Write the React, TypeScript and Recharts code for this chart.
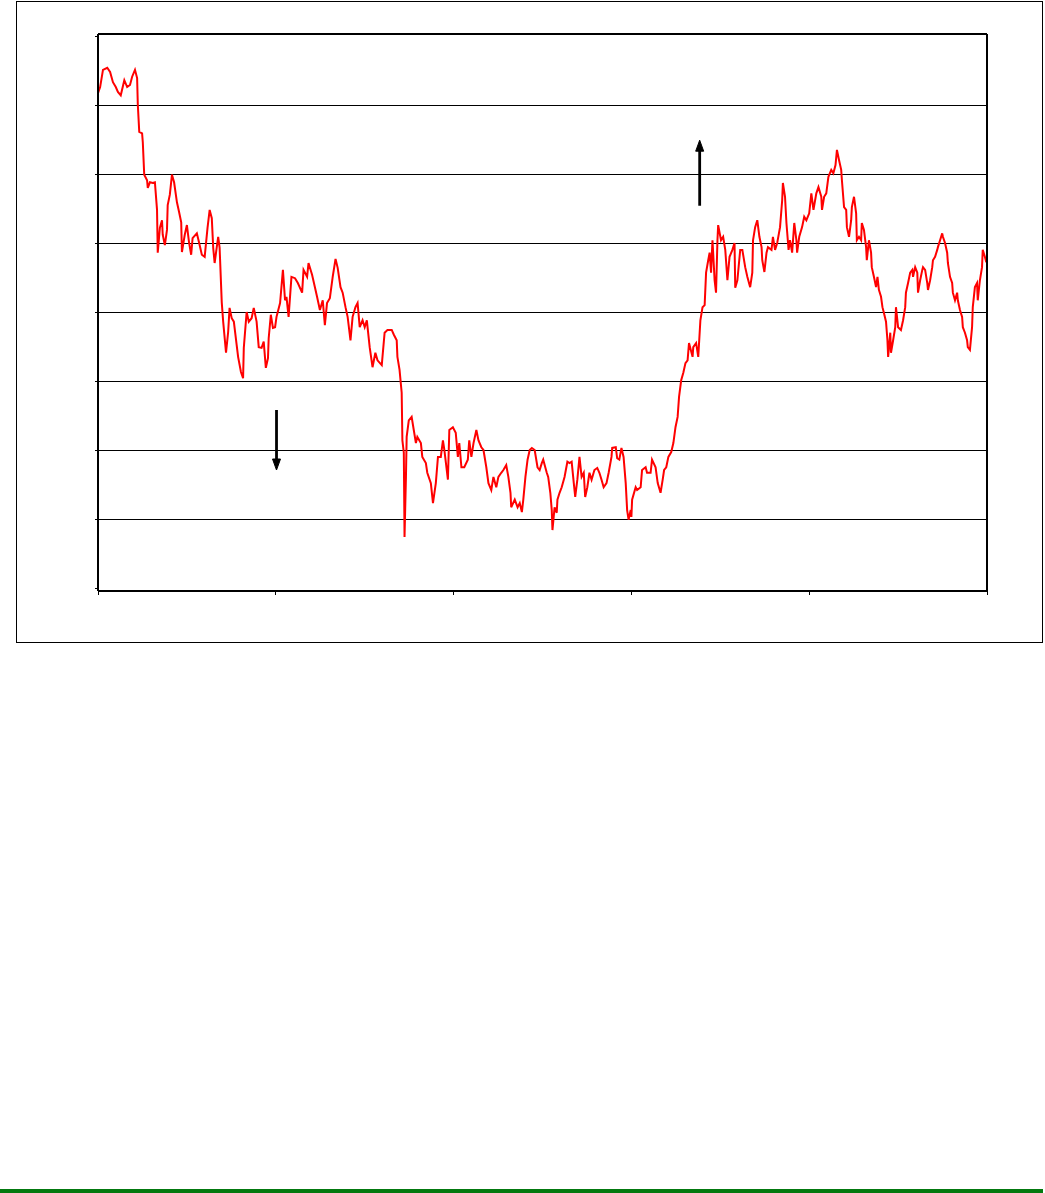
import React from 'react';
import { LineChart, Line, XAxis, YAxis, CartesianGrid, ReferenceLine } from 'recharts';

// Trading session number for every plotted close.
const sessions = [
  0, 3, 7, 13, 17, 21, 25, 28, 32, 37, 41, 45, 48, 52, 55, 56, 58, 62, 63, 65,
  69, 70, 73, 77, 80, 83, 84, 87, 90, 91, 94, 97, 98, 101, 104, 107, 111, 114, 117, 118,
  122, 125, 128, 131, 133, 139, 142, 146, 150, 154, 157, 160, 162, 164, 167, 169, 171, 174, 176, 180,
  183, 185, 188, 191, 195, 197, 201, 204, 205, 209, 212, 216, 219, 223, 226, 230, 233, 236, 239, 240,
  243, 246, 249, 251, 256, 260, 263, 265, 268, 272, 277, 281, 287, 289, 294, 296, 301, 305, 308, 312,
  316, 319, 322, 326, 330, 334, 337, 341, 344, 348, 351, 355, 358, 362, 365, 368, 372, 375, 378, 382,
  386, 390, 393, 399, 403, 407, 413, 416, 420, 421, 424, 427, 428, 430, 431, 433, 434, 437, 441, 444,
  447, 449, 454, 456, 461, 463, 468, 471, 475, 478, 482, 485, 487, 492, 494, 499, 503, 506, 508, 511,
  515, 520, 522, 525, 528, 532, 535, 539, 542, 546, 549, 553, 556, 560, 563, 567, 570, 574, 577, 580,
  581, 586, 590, 593, 596, 598, 601, 604, 607, 610, 614, 618, 621, 624, 626, 631, 633, 636, 638, 639,
  642, 645, 646, 649, 652, 656, 660, 663, 666, 669, 671, 674, 677, 680, 683, 685, 688, 691, 694, 698,
  702, 705, 708, 711, 715, 718, 722, 723, 728, 730, 733, 736, 739, 742, 744, 746, 749, 750, 751, 756,
  758, 763, 765, 770, 772, 777, 779, 784, 787, 791, 794, 796, 799, 802, 806, 809, 812, 815, 817, 820,
  823, 826, 829, 831, 836, 837, 841, 844, 847, 850, 853, 855, 858, 860, 862, 864, 867, 869, 871, 872,
  876, 879, 882, 885, 888, 892, 895, 896, 899, 903, 906, 910, 913, 917, 920, 921, 924, 927, 930, 933,
  934, 937, 940, 942, 947, 949, 952, 955, 959, 962, 963, 966, 968, 971, 973, 976, 979, 982, 983, 986,
  990, 993, 996, 1000, 1003, 1006, 1010, 1013, 1017, 1018, 1021, 1024, 1027, 1031, 1034, 1037, 1039, 1042, 1045, 1046,
  1049, 1052, 1053, 1056, 1059, 1060, 1063, 1066, 1067, 1070, 1073, 1074, 1077, 1080, 1081, 1084, 1087, 1088, 1091, 1094,
  1096, 1098, 1101, 1103, 1105, 1108, 1110, 1111, 1114, 1115, 1118, 1121, 1122, 1125, 1129, 1132, 1135, 1136, 1139, 1142,
  1145, 1146, 1149, 1152, 1153, 1156, 1159, 1160, 1163, 1166, 1167, 1170, 1173, 1174, 1177, 1180, 1181, 1184, 1187, 1188,
  1191, 1194, 1195, 1198, 1201, 1202, 1205, 1208, 1209, 1212, 1215, 1216, 1219, 1222, 1223, 1226, 1229, 1230, 1233, 1236,
  1237, 1240, 1243, 1244, 1247, 1249,
];

// Closing level for each session above.
const closes = [
  71.7, 72.6, 75.1, 75.4, 74.8, 73.3, 72.6, 71.9, 71.4, 73.6, 72.6, 72.9, 74.1, 75.1, 73.9, 70.0, 66.1, 65.9, 64.6, 59.9,
  59.1, 58.0, 58.8, 58.7, 58.8, 54.8, 48.6, 52.2, 53.3, 51.2, 49.7, 51.9, 55.5, 57.0, 59.9, 58.8, 55.9, 54.5, 53.0, 48.7,
  51.2, 52.6, 50.1, 48.3, 50.7, 51.4, 50.1, 48.3, 48.0, 52.2, 54.8, 53.6, 49.3, 47.1, 49.4, 50.9, 49.3, 41.4, 38.6, 34.1,
  37.1, 40.6, 39.1, 38.6, 35.2, 33.5, 31.3, 30.4, 34.8, 40.0, 38.6, 39.1, 40.6, 38.6, 34.9, 34.8, 35.7, 31.9, 33.3, 36.2,
  39.6, 37.7, 37.8, 39.3, 41.3, 46.1, 41.7, 42.2, 39.3, 45.1, 44.9, 44.2, 42.8, 46.1, 45.1, 47.1, 45.4, 43.6, 42.2, 40.3,
  41.7, 38.1, 41.3, 42.0, 45.1, 47.7, 46.4, 43.6, 42.8, 40.7, 39.3, 35.9, 39.3, 40.7, 41.3, 37.8, 38.8, 37.8, 38.8, 34.9,
  32.0, 34.1, 33.0, 32.3, 37.0, 37.4, 37.4, 36.7, 35.9, 33.5, 31.6, 28.3, 21.4, 19.6, 7.4, 16.1, 21.9, 24.3, 24.8, 22.9,
  21.0, 21.9, 21.0, 19.0, 18.1, 16.7, 15.2, 12.3, 15.2, 19.0, 19.0, 21.4, 20.0, 15.7, 22.9, 23.3, 22.5, 19.0, 21.0, 17.5,
  17.5, 18.6, 21.4, 19.0, 21.0, 22.9, 21.4, 20.4, 20.0, 17.5, 15.2, 14.2, 16.1, 14.6, 16.1, 16.7, 17.1, 17.8, 16.1, 13.8,
  11.7, 12.8, 11.7, 12.3, 11.0, 12.8, 16.1, 18.6, 20.0, 20.3, 20.0, 17.5, 17.1, 18.1, 18.6, 16.7, 16.1, 13.8, 11.3, 8.4,
  11.7, 10.9, 12.8, 13.8, 14.6, 16.1, 18.3, 18.1, 18.3, 15.2, 13.2, 15.7, 19.0, 16.1, 16.7, 13.2, 14.6, 16.7, 15.7, 17.1,
  17.4, 16.7, 15.7, 14.6, 15.2, 16.7, 19.0, 20.3, 20.4, 18.8, 18.6, 20.3, 19.0, 15.2, 11.3, 9.9, 11.3, 10.3, 12.8, 14.6,
  14.2, 14.6, 17.1, 17.5, 16.7, 16.7, 18.6, 17.5, 15.2, 13.8, 15.7, 17.1, 17.5, 19.0, 19.7, 21.0, 23.3, 24.8, 27.7, 30.1,
  31.2, 32.6, 33.0, 35.5, 33.5, 34.9, 35.5, 33.5, 38.8, 40.7, 41.0, 45.7, 47.5, 48.6, 45.7, 50.4, 44.6, 42.8, 50.4, 52.6,
  50.4, 50.9, 49.0, 44.6, 48.0, 49.0, 50.0, 43.5, 44.6, 49.0, 49.0, 46.5, 45.1, 43.6, 45.7, 50.4, 52.3, 53.3, 50.9, 49.4,
  47.5, 45.8, 48.6, 49.4, 49.0, 50.9, 49.0, 50.0, 52.3, 56.2, 58.7, 56.7, 52.9, 49.0, 50.4, 48.6, 52.9, 50.4, 48.6, 50.9,
  52.3, 53.8, 53.3, 54.3, 57.2, 54.8, 57.2, 58.1, 56.7, 54.8, 56.7, 57.2, 59.6, 60.6, 60.1, 61.3, 63.5, 62.0, 60.6, 59.1,
  55.2, 54.8, 52.3, 50.9, 53.3, 55.2, 56.7, 54.3, 50.4, 50.9, 50.4, 52.9, 51.9, 49.4, 47.5, 50.4, 48.6, 46.5, 45.1, 43.6,
  45.1, 43.2, 42.2, 40.7, 39.9, 38.6, 35.9, 33.5, 37.0, 34.1, 35.9, 37.8, 40.7, 37.8, 37.4, 38.8, 40.7, 42.8, 44.2, 45.7,
  46.1, 45.1, 46.5, 45.7, 42.8, 44.6, 46.1, 46.5, 46.1, 44.2, 43.2, 44.6, 46.5, 47.5, 48.0, 49.0, 49.4, 50.4, 51.4, 50.9,
  50.0, 48.6, 47.1, 45.1, 44.2, 42.8, 41.7, 42.8, 41.7, 40.3, 39.3, 37.8, 37.0, 35.9, 34.9, 34.5, 37.8, 40.7, 43.6, 44.2,
  41.7, 44.6, 46.5, 49.0, 48.0, 47.2,
];

const sessionTicks = [0, 250, 500, 750, 1000, 1250];
const levelTicks = [0, 10, 20, 30, 40, 50, 60, 70, 80];
const gridLevels = [10, 20, 30, 40, 50, 60, 70];

// Signal arrows: session and the levels the arrow runs between (tail -> head).
const sellSignal = { session: 251, from: 25.8, to: 17.1 };
const buySignal = { session: 846, from: 55.4, to: 64.9 };

const series = sessions.map((session, i) => ({ session, close: closes[i] }));

const SignalArrow = (props: any) => {
  const { x1, y1, x2, y2 } = props;
  const dir = Math.sign(y2 - y1) || 1;
  const head = 11;
  const half = 4;
  const base = y2 - dir * head;
  return (
    <g>
      <line x1={x1} y1={y1} x2={x2} y2={base + dir * 1} stroke="#000" strokeWidth={2.8} />
      <path
        d={`M${x2},${y2} L${x2 - half},${base} L${x2 + half},${base} Z`}
        fill="#000"
        stroke="#000"
        strokeWidth={1}
        strokeLinejoin="round"
      />
    </g>
  );
};

const NoLabel = () => <g />;

// Keep the one-pixel rules sharp instead of smeared over two rows.
const crispRules = `
  .price-chart .recharts-cartesian-grid line,
  .price-chart .recharts-cartesian-axis-line,
  .price-chart .recharts-cartesian-axis-tick-line { shape-rendering: crispEdges; }
`;

export default function App() {
  return (
    <div style={{ position: 'absolute', left: 0, top: 0, width: 1045, height: 1193, background: '#fff', overflow: 'hidden' }}>
      <style>{crispRules}</style>
      <div
        style={{
          position: 'absolute',
          left: 16,
          top: 1,
          width: 1027,
          height: 642,
          border: '1px solid #000',
          boxSizing: 'border-box',
        }}
      />
      <div className="price-chart" style={{ position: 'absolute', left: 0, top: 0 }}>
        <LineChart width={1045} height={621} data={series} margin={{ top: 33, right: 57, bottom: 0, left: 0 }}>
          <CartesianGrid vertical={false} horizontalValues={gridLevels} stroke="#000" strokeWidth={1} />
          <XAxis
            dataKey="session"
            type="number"
            domain={[0, 1250]}
            ticks={sessionTicks}
            allowDataOverflow
            height={30}
            axisLine={{ stroke: '#000', strokeWidth: 1.5 }}
            tickLine={{ stroke: '#000', strokeWidth: 1 }}
            tickSize={4}
            tick={NoLabel}
          />
          <XAxis
            xAxisId="top"
            orientation="top"
            type="number"
            domain={[0, 1250]}
            height={1}
            axisLine={{ stroke: '#000', strokeWidth: 1.2 }}
            tickLine={false}
            tick={NoLabel}
          />
          <YAxis
            type="number"
            domain={[0, 80]}
            ticks={levelTicks}
            width={98}
            padding={{ top: 2, bottom: 3 }}
            axisLine={{ stroke: '#000', strokeWidth: 1.2 }}
            tickLine={{ stroke: '#000', strokeWidth: 1 }}
            tickSize={3}
            tick={NoLabel}
          />
          <YAxis
            yAxisId="right"
            orientation="right"
            type="number"
            domain={[0, 80]}
            width={1}
            axisLine={{ stroke: '#000', strokeWidth: 1.2 }}
            tickLine={false}
            tick={NoLabel}
          />
          <Line
            type="linear"
            dataKey="close"
            stroke="#ff0000"
            strokeWidth={2}
            dot={false}
            activeDot={false}
            isAnimationActive={false}
          />
          <ReferenceLine
            segment={[
              { x: sellSignal.session, y: sellSignal.from },
              { x: sellSignal.session, y: sellSignal.to },
            ]}
            shape={SignalArrow}
          />
          <ReferenceLine
            segment={[
              { x: buySignal.session, y: buySignal.from },
              { x: buySignal.session, y: buySignal.to },
            ]}
            shape={SignalArrow}
          />
        </LineChart>
      </div>
      <div style={{ position: 'absolute', left: 0, top: 1189, width: 1043, height: 4, background: '#03790f' }} />
    </div>
  );
}
